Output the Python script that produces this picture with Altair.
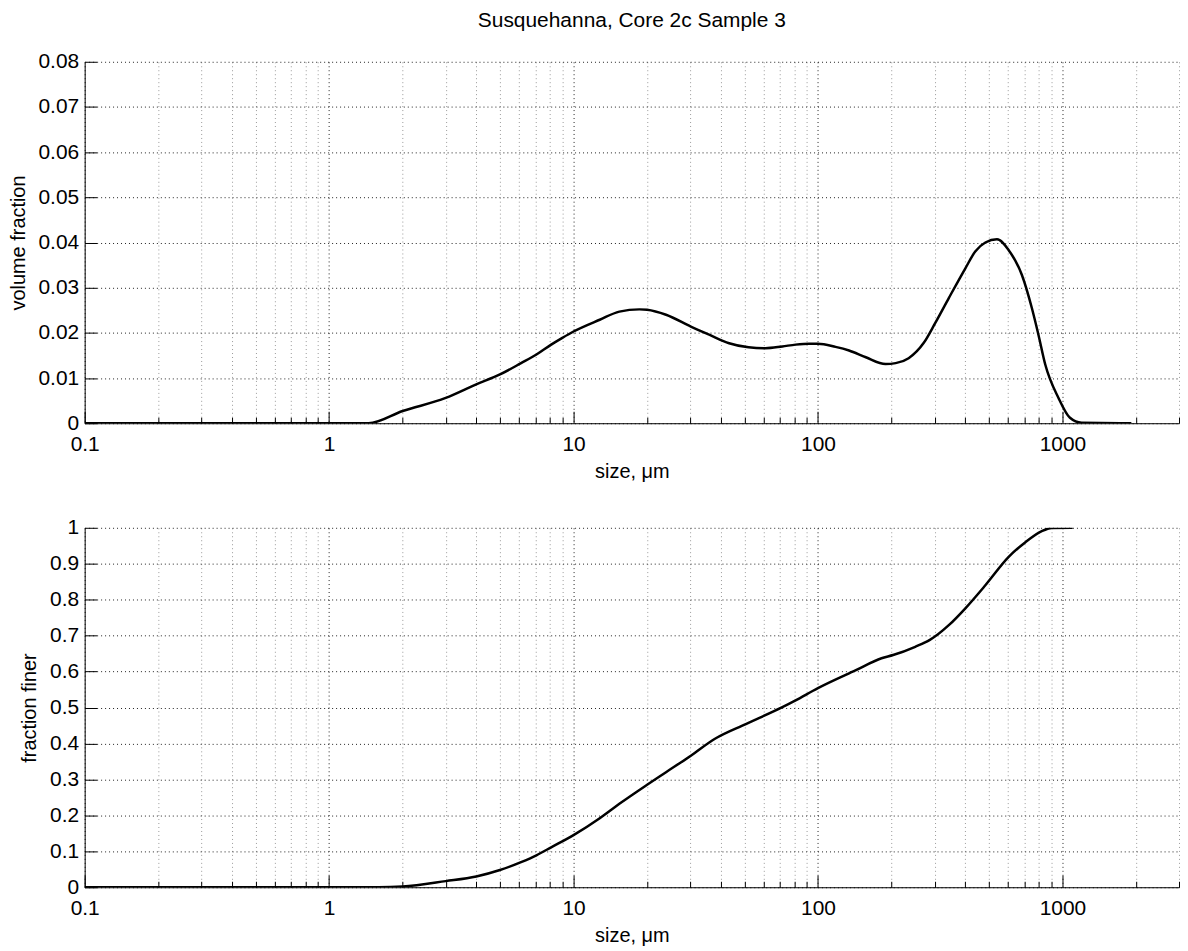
import altair as alt
import pandas as pd

# ---- data ----
size_top = [0.1, 1.45, 2.0, 3.0, 4.0, 5.0, 6.1, 7.05, 8.1, 9.0, 10, 12.8, 15.4, 18.6, 20, 23.9,
            30.2, 35.9, 43.3, 52, 61, 71.5, 81, 92, 100, 118, 134, 157, 189, 208, 235, 271,
            302, 343, 401, 440, 484, 540, 603, 683, 750, 798, 851, 964, 1074, 1199, 1915]
vol_frac = [0, 0, 0.0027, 0.0056, 0.0086, 0.0108, 0.0133, 0.0152, 0.0174, 0.0189, 0.0203, 0.0229,
            0.0247, 0.0252, 0.0251, 0.0240, 0.0214, 0.0196, 0.0177, 0.0168, 0.0166, 0.0170,
            0.0174, 0.0176, 0.0176, 0.0169, 0.0161, 0.0146, 0.0131, 0.0133, 0.0144, 0.0178,
            0.0222, 0.0277, 0.0343, 0.0380, 0.0400, 0.0407, 0.0383, 0.0328, 0.0255, 0.0196,
            0.0130, 0.0056, 0.0012, 0.0001, 0]

size_bot = [0.1, 1.59, 2.0, 3.0, 4.0, 5.0, 6.1, 7.05, 8.1, 10, 12.8, 15.4, 20, 23.9, 30.2, 37.9,
            50.7, 71.5, 81, 100, 143, 182, 203, 250, 287, 343, 401, 484, 603, 706, 820, 904, 1102]
frac_finer = [0, 0, 0.002, 0.017, 0.030, 0.048, 0.070, 0.089, 0.111, 0.145, 0.192, 0.232, 0.285,
              0.320, 0.366, 0.413, 0.454, 0.501, 0.520, 0.554, 0.604, 0.637, 0.646, 0.669, 0.688,
              0.729, 0.776, 0.840, 0.919, 0.960, 0.990, 0.9997, 1.0]

x_decades = [0.1, 1, 10, 100, 1000]
x_minor = [0.2, 0.3, 0.4, 0.5, 0.6, 0.7, 0.8, 0.9,
           2, 3, 4, 5, 6, 7, 8, 9,
           20, 30, 40, 50, 60, 70, 80, 90,
           200, 300, 400, 500, 600, 700, 800, 900,
           2000, 3000]
y_top_ticks = [0, 0.01, 0.02, 0.03, 0.04, 0.05, 0.06, 0.07, 0.08]
y_bot_ticks = [0, 0.1, 0.2, 0.3, 0.4, 0.5, 0.6, 0.7, 0.8, 0.9, 1]

TITLE = "Susquehanna, Core 2c Sample 3"
XTITLE = "size, \u03bcm"

FONT = "Liberation Sans"
PLOT_W = 1099

all_x = sorted(x_decades + x_minor)
decade_test = "indexof([0.1, 1, 10, 100, 1000], datum.value) >= 0"


def panel(sizes, vals, ydomain, yvals, yfmt, ytitle, height, title=None):
    df = pd.DataFrame({"size": sizes, "val": vals})
    xscale = alt.Scale(type="log", domain=[0.1, 3000], nice=False)
    yscale = alt.Scale(domain=ydomain, nice=False, zero=False)
    base = alt.Chart(df)
    line = base.mark_line(color="black", strokeWidth=2.5, clip=True, interpolate="monotone").encode(
        x=alt.X("size:Q", scale=xscale, axis=alt.Axis(
            orient="bottom", values=all_x,
            labelExpr=decade_test + " ? format(datum.value, '~g') : ''",
            ticks=False, grid=True, gridDash=[1, 3], gridWidth=1,
            gridColor={"condition": {"test": decade_test, "value": "#222222"}, "value": "#999999"},
            domain=True, domainColor="black", domainWidth=1,
            labelFont=FONT, labelFontSize=21, labelColor="black", labelPadding=10,
            labelFlush=False, labelOverlap=False,
            title=XTITLE, titleFont=FONT, titleFontSize=20, titleFontWeight="normal",
            titleColor="black", titlePadding=7)),
        y=alt.Y("val:Q", scale=yscale, axis=alt.Axis(
            orient="left", values=yvals, format=yfmt,
            ticks=False, grid=True, gridDash=[1, 3], gridWidth=1, gridColor="#222222",
            domain=True, domainColor="black", domainWidth=1,
            labelFont=FONT, labelFontSize=21, labelColor="black", labelPadding=6,
            labelFlush=False, labelOverlap=False,
            title=ytitle, titleFont=FONT, titleFontSize=20, titleFontWeight="normal",
            titleColor="black", titlePadding=10)),
    )
    major = base.mark_line(opacity=0).encode(
        x=alt.X("size:Q", scale=xscale, axis=alt.Axis(
            orient="bottom", offset=-12, tickSize=12, values=x_decades, labels=False,
            domain=False, grid=False, title=None, tickColor="black", tickWidth=1)),
        y=alt.Y("val:Q", scale=yscale, axis=alt.Axis(
            orient="left", offset=-12, tickSize=12, values=yvals, labels=False,
            domain=False, grid=False, title=None, tickColor="black", tickWidth=1)),
    )
    minor = base.mark_line(opacity=0).encode(
        x=alt.X("size:Q", scale=xscale, axis=alt.Axis(
            orient="bottom", offset=-6, tickSize=6, values=x_minor, labels=False,
            domain=False, grid=False, title=None, tickColor="black", tickWidth=1)),
        y=alt.Y("val:Q", scale=yscale, axis=None),
    )
    props = dict(width=PLOT_W, height=height)
    if title is not None:
        props["title"] = title
    return alt.layer(line, major, minor).resolve_axis(x="independent", y="independent").properties(**props)


top = panel(size_top, vol_frac, [0, 0.08], y_top_ticks, ".2~f", "volume fraction", 363,
            title=alt.TitleParams(TITLE, font=FONT, fontSize=21, fontWeight="normal",
                                  color="black", anchor="middle", frame="group", offset=20))
bottom = panel(size_bot, frac_finer, [0, 1], y_bot_ticks, ".1~f", "fraction finer", 361)

chart = alt.vconcat(top, bottom, spacing=36).properties(
    padding={"left": 0, "top": 0, "right": 0, "bottom": 0},
    background="white",
).configure_view(stroke=None)

chart.save("out.html", embed_options={"renderer": "svg", "actions": False})
